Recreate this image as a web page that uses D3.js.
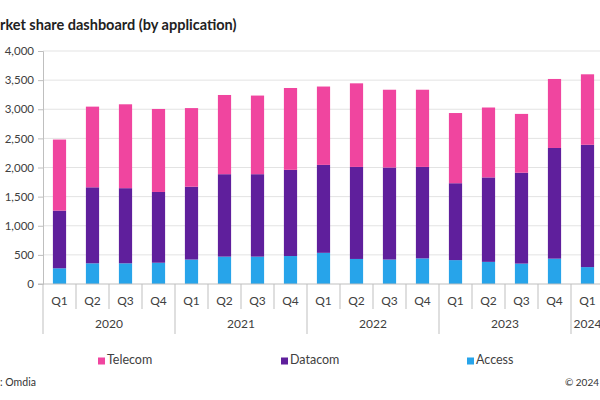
<!DOCTYPE html>
<html>
<head>
<meta charset="utf-8">
<script src="https://cdn.jsdelivr.net/npm/d3@7"></script>
<style>
  body { margin: 0; background: #fff; }
  svg { display: block; font-family: Lato, "Open Sans", sans-serif; }
</style>
</head>
<body>
<svg id="chart" width="600" height="400"></svg>
<script>
const quarters = ["Q1","Q2","Q3","Q4","Q1","Q2","Q3","Q4","Q1","Q2","Q3","Q4","Q1","Q2","Q3","Q4","Q1"];
const years = ["2020","2020","2020","2020","2021","2021","2021","2021","2022","2022","2022","2022","2023","2023","2023","2023","2024"];
const access  = [270, 355, 355, 365, 420, 470, 470, 480, 535, 430, 420, 440, 410, 380, 350, 435, 290];
const datacom = [990, 1305, 1290, 1215, 1250, 1415, 1415, 1480, 1510, 1580, 1580, 1570, 1320, 1450, 1560, 1900, 2100];
const telecom = [1220, 1385, 1440, 1425, 1350, 1360, 1350, 1405, 1345, 1435, 1335, 1325, 1205, 1200, 1010, 1185, 1210];
const yTicks = [0, 500, 1000, 1500, 2000, 2500, 3000, 3500, 4000];
const seriesNames = ["Telecom", "Datacom", "Access"];
const colors = {Telecom: "#f0459f", Datacom: "#5f1f9c", Access: "#27a4ea"};

const svg = d3.select("#chart");
const keys = quarters.map((q, i) => i);
const x = d3.scaleBand().domain(keys).range([43, 604]).paddingInner(0.6).paddingOuter(0.3);
const y = d3.scaleLinear().domain([0, 4000]).range([284, 51]);

// title
svg.append("text").attr("x", 0).attr("y", 30)
  .attr("font-size", 14.5).attr("font-weight", "bold").attr("fill", "#222")
  .text("rket share dashboard (by application)");

// gridlines
svg.append("g").selectAll("line").data(yTicks.filter(d => d > 0)).join("line")
  .attr("x1", 43).attr("x2", 600)
  .attr("y1", d => y(d)).attr("y2", d => y(d))
  .attr("stroke", "#e3e3e3").attr("stroke-width", 1);

// y axis
const yAxis = d3.axisLeft(y).tickValues(yTicks).tickSize(5).tickPadding(4)
  .tickFormat(d3.format(","));
const gy = svg.append("g").attr("transform", "translate(43,0)").call(yAxis);
gy.select(".domain").attr("stroke", "#bfbfbf");
gy.selectAll(".tick line").attr("stroke", "#bfbfbf");
gy.selectAll("text").attr("font-size", 11.5).attr("fill", "#404040")
  .attr("font-family", "Lato, sans-serif");

// stacked bars
const rows = keys.map(i => ({i, Access: access[i], Datacom: datacom[i], Telecom: telecom[i]}));
const stack = d3.stack().keys(["Access", "Datacom", "Telecom"])(rows);
svg.append("g").selectAll("g").data(stack).join("g")
  .attr("fill", d => colors[d.key])
  .selectAll("rect").data(d => d).join("rect")
  .attr("x", d => x(d.data.i))
  .attr("width", x.bandwidth())
  .attr("y", d => y(d[1]))
  .attr("height", d => y(d[0]) - y(d[1]));

// x axis baseline
svg.append("line").attr("x1", 38).attr("x2", 600).attr("y1", y(0)).attr("y2", y(0))
  .attr("stroke", "#bfbfbf");

// category separators
const step = x.step();
const x0 = 43;
const sep = d3.range(0, quarters.length + 1).map(i => ({i, xpos: x0 + i * step}));
svg.append("g").selectAll("line").data(sep).join("line")
  .attr("x1", d => d.xpos).attr("x2", d => d.xpos)
  .attr("y1", y(0))
  .attr("y2", d => (d.i === 0 || (d.i < quarters.length && quarters[d.i] === "Q1")) ? 334 : 309)
  .attr("stroke", "#bfbfbf");

// quarter labels
svg.append("g").selectAll("text").data(keys).join("text")
  .attr("x", i => x0 + (i + 0.5) * step).attr("y", 302)
  .attr("text-anchor", "middle").attr("dominant-baseline", "middle")
  .attr("font-size", 12).attr("fill", "#404040")
  .text(i => quarters[i]);

// year labels
const yearGroups = d3.groups(keys, i => years[i]);
svg.append("g").selectAll("text").data(yearGroups).join("text")
  .attr("x", d => {
    const a = d3.min(d[1]), b = d3.max(d[1]);
    return x0 + ((a + b + 1) / 2) * step;
  })
  .attr("y", 325)
  .attr("text-anchor", "middle").attr("dominant-baseline", "middle")
  .attr("font-size", 12).attr("fill", "#404040")
  .text(d => d[0]);

// legend
const legendX = [98, 281, 467];
const lg = svg.append("g").selectAll("g").data(seriesNames).join("g")
  .attr("transform", (d, i) => `translate(${legendX[i]},361)`);
lg.append("rect").attr("x", 0).attr("y", -3.5).attr("width", 7).attr("height", 7)
  .attr("fill", d => colors[d]);
lg.append("text").attr("x", 9).attr("y", 0).attr("dominant-baseline", "middle")
  .attr("font-size", 12.5).attr("fill", "#404040").text(d => d);

// footer
svg.append("text").attr("x", 0).attr("y", 383).attr("dominant-baseline", "middle")
  .attr("font-size", 10.5).attr("fill", "#333").text(": Omdia");
svg.append("text").attr("x", 599).attr("y", 383).attr("dominant-baseline", "middle")
  .attr("text-anchor", "end")
  .attr("font-size", 10).attr("fill", "#333").text("© 2024");
</script>
</body>
</html>
